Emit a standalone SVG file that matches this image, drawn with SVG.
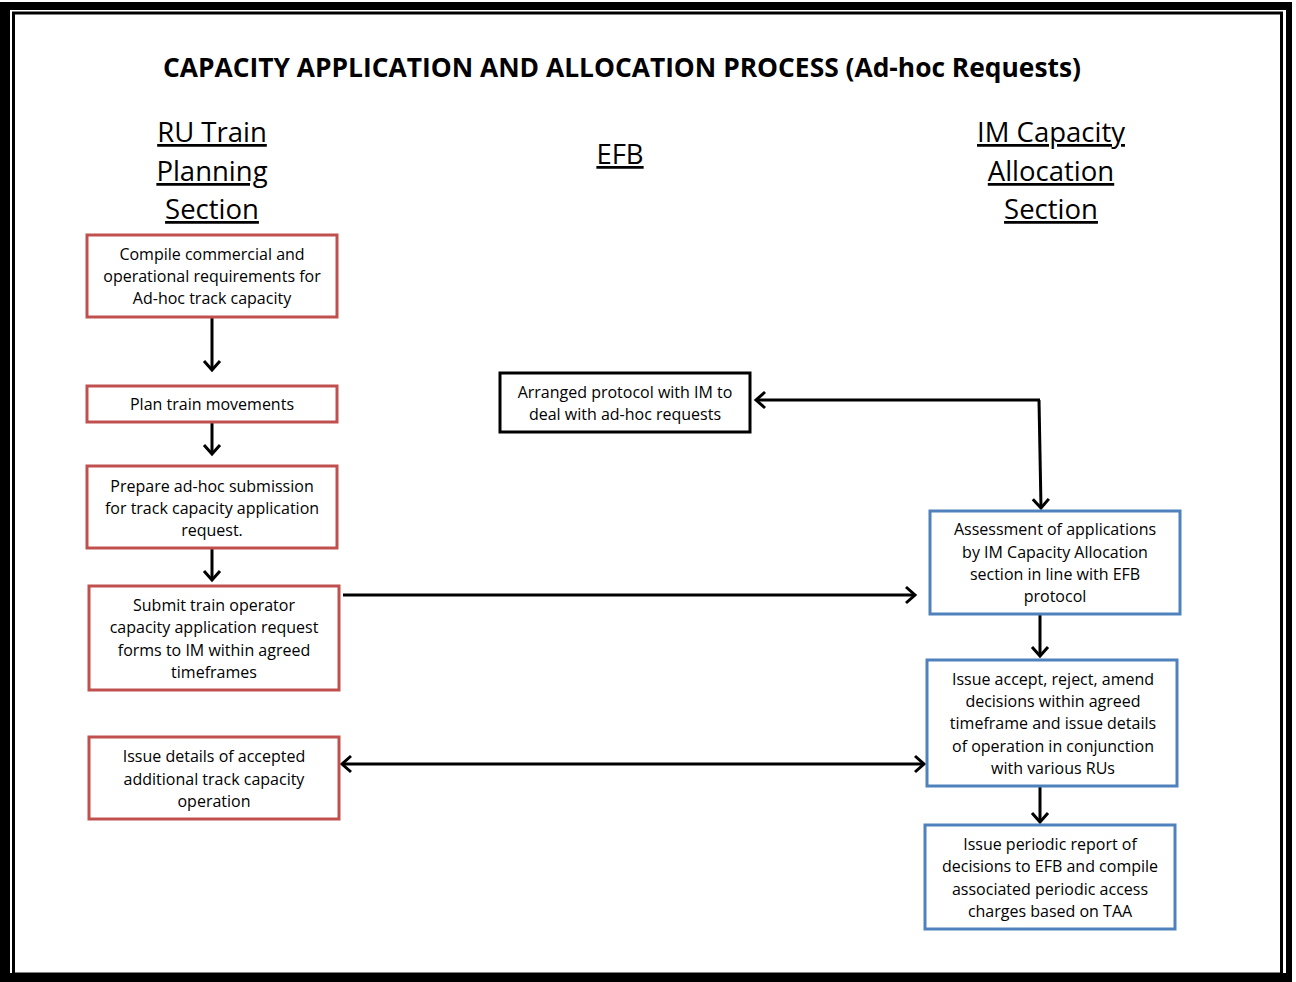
<svg xmlns="http://www.w3.org/2000/svg" width="1296" height="982" viewBox="0 0 1296 982">
<style>
.t{font-family:"Open Sans","Liberation Sans",sans-serif;font-size:16px;fill:#000;text-anchor:middle}
.h{font-family:"Open Sans","Liberation Sans",sans-serif;font-size:27.5px;fill:#000;text-anchor:middle;text-decoration:underline}
.title{font-family:"Open Sans","Liberation Sans",sans-serif;font-size:27px;font-weight:bold;fill:#000;text-anchor:middle}
.red{fill:#fff;stroke:#C0504D;stroke-width:3}
.blue{fill:#fff;stroke:#4F81BD;stroke-width:3}
.blk{fill:#fff;stroke:#000;stroke-width:3}
.c{fill:none;stroke:#000;stroke-width:3}
</style>
<defs>
<marker id="ah" markerWidth="14" markerHeight="20" refX="11" refY="10" orient="auto-start-reverse" markerUnits="userSpaceOnUse">
<path d="M2,2 L11,10 L2,18" fill="none" stroke="#000" stroke-width="3"/>
</marker>
</defs>
<rect width="1296" height="982" fill="#fff"/>
<g id="frame">
<rect x="0" y="2" width="10" height="980" fill="#000"/>
<rect x="0" y="2" width="1292" height="8" fill="#000"/>
<rect x="1286" y="2" width="6" height="980" fill="#000"/>
<rect x="0" y="973" width="1292" height="9" fill="#000"/>
<rect x="13.5" y="13" width="1268" height="961" fill="none" stroke="#000" stroke-width="3"/>
</g>
<text class="title" x="622" y="77" textLength="918" lengthAdjust="spacingAndGlyphs">CAPACITY APPLICATION AND ALLOCATION PROCESS (Ad-hoc Requests)</text>
<g id="headers">
<text class="h" x="212" y="142">RU Train</text>
<text class="h" x="212" y="181">Planning</text>
<text class="h" x="212" y="219">Section</text>
<text class="h" x="620" y="164">EFB</text>
<text class="h" x="1051" y="142">IM Capacity</text>
<text class="h" x="1051" y="181">Allocation</text>
<text class="h" x="1051" y="219">Section</text>
</g>
<g id="connectors">
<path class="c" d="M212,317 L212,370" marker-end="url(#ah)"/>
<path class="c" d="M212,423 L212,454" marker-end="url(#ah)"/>
<path class="c" d="M212,549 L212,580" marker-end="url(#ah)"/>
<path class="c" d="M343,595 L915,595" marker-end="url(#ah)"/>
<path class="c" d="M1040,400 L756,400" marker-end="url(#ah)"/>
<path class="c" d="M1039,400 L1041,508" marker-end="url(#ah)"/>
<path class="c" d="M1040,615 L1040,656" marker-end="url(#ah)"/>
<path class="c" d="M342,764 L924,764" marker-start="url(#ah)" marker-end="url(#ah)"/>
<path class="c" d="M1040,787 L1040,822" marker-end="url(#ah)"/>
</g>
<g id="n1"><rect class="red" x="87" y="235" width="250" height="82"/>
<text class="t" x="212" y="260">Compile commercial and</text>
<text class="t" x="212" y="282">operational requirements for</text>
<text class="t" x="212" y="304">Ad-hoc track capacity</text></g>
<g id="n2"><rect class="red" x="87" y="386" width="250" height="36"/>
<text class="t" x="212" y="410">Plan train movements</text></g>
<g id="n3"><rect class="red" x="87" y="466" width="250" height="82"/>
<text class="t" x="212" y="492">Prepare ad-hoc submission</text>
<text class="t" x="212" y="514">for track capacity application</text>
<text class="t" x="212" y="536">request.</text></g>
<g id="n4"><rect class="red" x="89" y="586" width="250" height="104"/>
<text class="t" x="214" y="611">Submit train operator</text>
<text class="t" x="214" y="633">capacity application request</text>
<text class="t" x="214" y="656">forms to IM within agreed</text>
<text class="t" x="214" y="678">timeframes</text></g>
<g id="n5"><rect class="red" x="89" y="737" width="250" height="82"/>
<text class="t" x="214" y="762">Issue details of accepted</text>
<text class="t" x="214" y="785">additional track capacity</text>
<text class="t" x="214" y="807">operation</text></g>
<g id="n6"><rect class="blk" x="500" y="373" width="250" height="59"/>
<text class="t" x="625" y="398">Arranged protocol with IM to</text>
<text class="t" x="625" y="420">deal with ad-hoc requests</text></g>
<g id="n7"><rect class="blue" x="930" y="511" width="250" height="103"/>
<text class="t" x="1055" y="535">Assessment of applications</text>
<text class="t" x="1055" y="558">by IM Capacity Allocation</text>
<text class="t" x="1055" y="580">section in line with EFB</text>
<text class="t" x="1055" y="602">protocol</text></g>
<g id="n8"><rect class="blue" x="927" y="660" width="250" height="126"/>
<text class="t" x="1053" y="685">Issue accept, reject, amend</text>
<text class="t" x="1053" y="707">decisions within agreed</text>
<text class="t" x="1053" y="729">timeframe and issue details</text>
<text class="t" x="1053" y="752">of operation in conjunction</text>
<text class="t" x="1053" y="774">with various RUs</text></g>
<g id="n9"><rect class="blue" x="925" y="825" width="250" height="104"/>
<text class="t" x="1050" y="850">Issue periodic report of</text>
<text class="t" x="1050" y="872">decisions to EFB and compile</text>
<text class="t" x="1050" y="895">associated periodic access</text>
<text class="t" x="1050" y="917">charges based on TAA</text></g>
</svg>
